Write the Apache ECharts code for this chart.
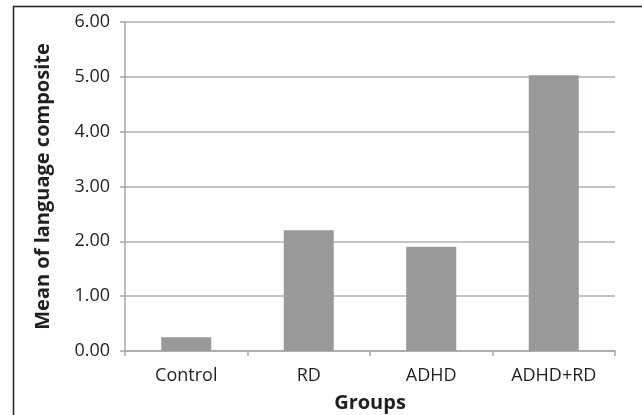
<!DOCTYPE html>
<html>
<head>
<meta charset="utf-8">
<script src="https://cdn.jsdelivr.net/npm/echarts@6/dist/echarts.min.js"></script>
<style>
  html, body { margin: 0; padding: 0; background: #fff; }
  #chart { width: 642px; height: 415px; }
</style>
</head>
<body>
<div id="chart"></div>
<script>
// data
const groups = ["Control", "RD", "ADHD", "ADHD+RD"];
const means = [0.25, 2.2, 1.9, 5.03];
const yTicks = [0, 1, 2, 3, 4, 5, 6];

const chart = echarts.init(document.getElementById("chart"), null, { renderer: "canvas" });
const font = "'Open Sans', sans-serif";

chart.setOption({
  animation: false,
  backgroundColor: "#fff",
  textStyle: { fontFamily: font },
  grid: { left: 125, right: 27, top: 22, bottom: 64, containLabel: false, outerBoundsMode: "none" },
  // the frame around the figure (top + left edge)
  graphic: [
    {
      type: "polyline",
      shape: { points: [[13.5, 415], [13.5, 6.5], [642, 6.5]] },
      style: { stroke: "#231f20", lineWidth: 1.5, fill: null },
    },
  ],
  xAxis: {
    type: "category",
    data: groups,
    name: "Groups",
    nameLocation: "middle",
    nameGap: 42,
    nameTextStyle: { fontFamily: font, fontWeight: "bold", fontSize: 20, color: "#231f20" },
    axisLine: { lineStyle: { color: "#a6a6a6", width: 1.5 } },
    axisTick: { show: true, length: 5, alignWithLabel: false, lineStyle: { color: "#a6a6a6", width: 1.5 } },
    axisLabel: { fontFamily: font, fontSize: 18, color: "#231f20", margin: 16 },
  },
  yAxis: {
    type: "value",
    min: yTicks[0],
    max: yTicks[yTicks.length - 1],
    interval: 1,
    name: "Mean of language composite",
    nameLocation: "middle",
    nameGap: 72,
    nameTextStyle: { fontFamily: font, fontWeight: "bold", fontSize: 20, color: "#231f20" },
    axisLine: { show: true, lineStyle: { color: "#a6a6a6", width: 1.5 } },
    axisTick: { show: true, length: 5, lineStyle: { color: "#a6a6a6", width: 1.5 } },
    splitLine: { show: true, lineStyle: { color: "#b0b0b0", width: 1.5 } },
    axisLabel: {
      fontFamily: font,
      fontSize: 18,
      color: "#231f20",
      margin: 15,
      formatter: (v) => v.toFixed(2),
    },
  },
  series: [
    {
      type: "bar",
      data: means,
      barWidth: 50,
      itemStyle: { color: "#98999b" },
    },
  ],
});
</script>
</body>
</html>
